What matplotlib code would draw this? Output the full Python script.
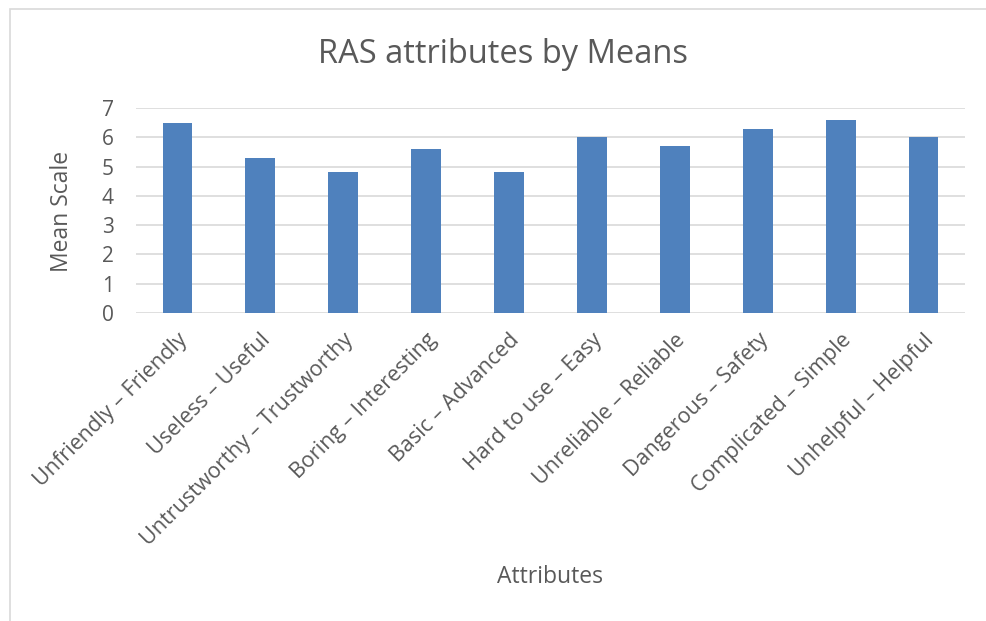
import matplotlib
matplotlib.use("Agg")
import matplotlib.pyplot as plt
import numpy as np
from matplotlib.patches import Rectangle

# data
attributes = ["Unfriendly \u2013 Friendly", "Useless \u2013 Useful", "Untrustworthy \u2013 Trustworthy",
              "Boring \u2013 Interesting", "Basic \u2013 Advanced", "Hard to use \u2013 Easy",
              "Unreliable \u2013 Reliable", "Dangerous \u2013 Safety", "Complicated \u2013 Simple",
              "Unhelpful \u2013 Helpful"]
means = [6.5, 5.3, 4.8, 5.6, 4.8, 6.0, 5.7, 6.3, 6.6, 6.0]
y_ticks = [0, 1, 2, 3, 4, 5, 6, 7]

plt.rcParams['font.family'] = ['Open Sans', 'DejaVu Sans']
text_col = '#595959'
grid_col = '#D9D9D9'

fig = plt.figure(figsize=(9.87, 6.21), dpi=100)
ax = fig.add_axes([0.1378, 0.496, 0.8399, 0.330])

x = np.arange(len(attributes))
ax.bar(x, means, width=0.36, color='#4F81BD', zorder=3)

ax.set_xlim(-0.5, len(attributes) - 0.5)
ax.set_ylim(0, 7)
ax.set_yticks(y_ticks)
ax.set_yticklabels([str(t) for t in y_ticks], fontsize=15, color=text_col)
ax.set_xticks(x)
ax.set_xticklabels(attributes, rotation=45, ha='right', rotation_mode='anchor',
                   fontsize=15.5, color=text_col)
ax.tick_params(axis='both', length=0)
ax.tick_params(axis='x', pad=12)
ax.tick_params(axis='y', pad=16)
ax.grid(axis='y', color=grid_col, linewidth=1.2, zorder=0)
for s in ax.spines.values():
    s.set_visible(False)

fig.text(0.51, 0.912, 'RAS attributes by Means', ha='center', va='center',
         fontsize=23.5, color=text_col)
fig.text(0.063, 0.66, 'Mean Scale', ha='center', va='center', rotation=90,
         fontsize=16.5, color=text_col)
fig.text(0.557, 0.071, 'Attributes', ha='center', va='center',
         fontsize=16.5, color=text_col)

# chart frame
fig.patches.append(Rectangle((0.0105, -0.01), 1.5, 0.995, transform=fig.transFigure,
                             fill=False, edgecolor=grid_col, linewidth=1.2))

fig.savefig('out.png', dpi=100)
